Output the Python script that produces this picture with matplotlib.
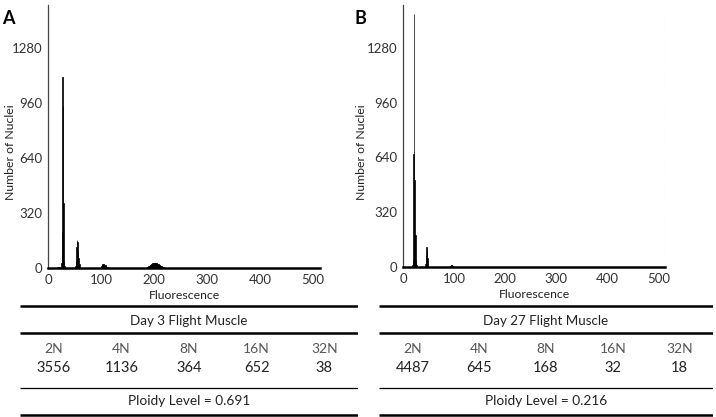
import matplotlib
matplotlib.use("Agg")
import matplotlib.pyplot as plt
from matplotlib.lines import Line2D

plt.rcParams['font.family'] = ['Lato', 'DejaVu Sans']

# histogram channels / counts, panel A (day 3)
a_chan = list(range(18, 23)) + list(range(25, 32)) + list(range(52, 61)) + list(range(99, 115)) + list(range(186, 223))
a_count = [3, 4, 5, 4, 3,
           30, 210, 1110, 940, 380, 40, 10,
           10, 40, 120, 163, 150, 100, 60, 25, 8,
           2, 5, 10, 16, 21, 24, 25, 23, 20, 16, 12, 8, 5, 3, 2, 1,
           2, 3, 5, 7, 10, 13, 16, 19, 22, 24, 26, 27, 28, 29, 29, 30, 30, 29, 28, 28,
           27, 25, 23, 21, 19, 16, 13, 11, 9, 7, 5, 4, 3, 2, 2, 1, 1]

# panel B (day 27)
b_chan = list(range(19, 27)) + list(range(43, 50)) + list(range(92, 100))
b_count = [10, 40, 660, 1480, 506, 186, 40, 10,
           8, 20, 70, 118, 100, 50, 15,
           2, 5, 9, 11, 10, 7, 4, 2]

ploidy_cols = ['2N', '4N', '8N', '16N', '32N']
a_nuclei = [3556, 1136, 364, 652, 38]
b_nuclei = [4487, 645, 168, 32, 18]
a_title = 'Day 3 Flight Muscle'
b_title = 'Day 27 Flight Muscle'
a_ploidy = 0.691
b_ploidy = 0.216

y_ticks = [0, 320, 640, 960, 1280]
x_ticks = [0, 100, 200, 300, 400, 500]

W, H = 716, 417
fig = plt.figure(figsize=(W / 100, H / 100), dpi=100)


def px_axes(x0, y0, x1, y1):
    # pixel box (from top-left) -> figure axes
    return fig.add_axes([x0 / W, (H - y1) / H, (x1 - x0) / W, (y1 - y0) / H])


def draw_hist(box, chan, count, label, label_x, ylab_x):
    ax = px_axes(*box)
    ax.bar(chan, count, width=1.0, color='black', edgecolor='black', linewidth=0.5)
    ax.set_xlim(0, 513)
    ax.set_ylim(0, 1530)
    ax.set_xticks(x_ticks)
    ax.set_yticks(y_ticks)
    ax.tick_params(length=0, labelsize=9.5, colors='#333333', pad=4)
    for s in ['top', 'right']:
        ax.spines[s].set_visible(False)
    ax.spines['left'].set_color('#444444')
    ax.spines['left'].set_linewidth(0.9)
    ax.spines['bottom'].set_linewidth(1.8)
    ax.set_xlabel('Fluorescence', fontsize=8.8, color='#222222', labelpad=3)
    ax.set_ylabel('Number of Nuclei', fontsize=8.8, color='#222222')
    ax.yaxis.set_label_coords(ylab_x, 0.44)
    fig.text(label_x / W, 1 - 19 / H, label, fontsize=13, fontweight='bold', ha='left', va='center')
    return ax


def draw_table(x0, x1, title, nuclei, ploidy):
    ax = px_axes(x0, 298, x1, 417)
    ax.set_xlim(0, 5)
    ax.set_ylim(417, 298)
    ax.axis('off')
    for y, lw in [(306, 1.8), (333, 1.8), (388, 0.9), (415, 1.8)]:
        ax.add_line(Line2D([0, 5], [y, y], color='black', lw=lw, solid_capstyle='butt'))
    ax.text(2.5, 321, title, ha='center', va='center', fontsize=9.6, color='#222222')
    for i, (c, n) in enumerate(zip(ploidy_cols, nuclei)):
        ax.text(i + 0.5, 349, c, ha='center', va='center', fontsize=10, color='#555555')
        ax.text(i + 0.5, 368, str(n), ha='center', va='center', fontsize=10.5, color='#222222')
    ax.text(2.5, 401, 'Ploidy Level = %.3f' % ploidy, ha='center', va='center', fontsize=9.8, color='#222222')


draw_hist((48, 5, 320, 268), a_chan, a_count, 'A', 2, -0.118)
axb = draw_hist((403, 5, 665, 267), b_chan, b_count, 'B', 355, -0.138)
axb.axvline(513, color='#cccccc', lw=0.8, ls=':')

draw_table(20, 358, a_title, a_nuclei, a_ploidy)
draw_table(379, 713, b_title, b_nuclei, b_ploidy)

fig.savefig('out.png', dpi=100)
